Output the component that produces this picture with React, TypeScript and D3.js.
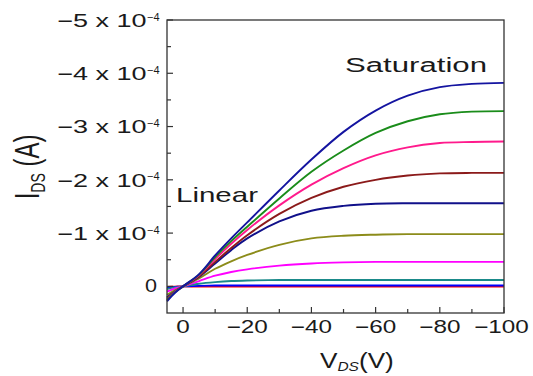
import React from 'react';
import * as d3 from 'd3';

// Drain–source voltage samples (V)
const VDS = [5, 2.5, 0, -5, -10, -15, -20, -30, -40, -50, -60, -70, -80, -90, -100];

// Drain current in units of 1e-4 A, one array per gate voltage curve
const I_navyTop = [0.28, 0.12, 0, -0.23, -0.58, -0.9, -1.2, -1.8, -2.38, -2.9, -3.3, -3.58, -3.74, -3.8, -3.82];
const I_green = [0.26, 0.11, 0, -0.22, -0.55, -0.85, -1.12, -1.65, -2.15, -2.55, -2.88, -3.1, -3.23, -3.28, -3.29];
const I_pink = [0.25, 0.1, 0, -0.21, -0.51, -0.8, -1.06, -1.52, -1.91, -2.22, -2.46, -2.61, -2.69, -2.71, -2.72];
const I_brown = [0.23, 0.1, 0, -0.19, -0.46, -0.72, -0.96, -1.36, -1.66, -1.87, -2.0, -2.08, -2.12, -2.13, -2.13];
const I_navy2 = [0.21, 0.09, 0, -0.18, -0.43, -0.68, -0.9, -1.22, -1.42, -1.51, -1.55, -1.56, -1.56, -1.56, -1.56];
const I_olive = [0.16, 0.07, 0, -0.15, -0.33, -0.47, -0.59, -0.78, -0.9, -0.95, -0.97, -0.98, -0.98, -0.98, -0.98];
const I_magenta = [0.1, 0.04, 0, -0.1, -0.2, -0.27, -0.32, -0.39, -0.43, -0.45, -0.46, -0.46, -0.46, -0.46, -0.46];
const I_teal = [0.05, 0.02, 0, -0.05, -0.08, -0.1, -0.11, -0.12, -0.12, -0.12, -0.12, -0.12, -0.12, -0.12, -0.12];
const I_blue = [0.02, 0.01, 0, -0.01, -0.015, -0.015, -0.015, -0.015, -0.015, -0.015, -0.015, -0.015, -0.015, -0.015, -0.015];
const I_red = [0.01, 0.005, 0, 0.005, 0.005, 0.005, 0.005, 0.005, 0.005, 0.005, 0.005, 0.005, 0.005, 0.005, 0.005];

const SERIES_VALUES = [I_red, I_blue, I_teal, I_magenta, I_olive, I_navy2, I_brown, I_pink, I_green, I_navyTop];
const SERIES_COLORS = ['#ff0000', '#0000ff', '#1a8a8a', '#ff00ff', '#8c8c1a', '#10108a', '#8b1a1a', '#ff1a8c', '#1a8c1a', '#1414a0'];

const X_MAJOR = [0, -20, -40, -60, -80, -100];
const X_MINOR = [-10, -30, -50, -70, -90];
const Y_MAJOR = [-5, -4, -3, -2, -1, 0];
const Y_MINOR = [-4.5, -3.5, -2.5, -1.5, -0.5];

export default function App() {
  const W = 533, H = 376;
  const left = 167, right = 504, top = 20, bottom = 313;
  const x = d3.scaleLinear().domain([5, -100]).range([left, right]);
  const y = d3.scaleLinear().domain([0.5, -5]).range([bottom, top]);
  const line = d3.line<[number, number]>()
    .x(d => x(d[0]))
    .y(d => y(d[1]))
    .curve(d3.curveCatmullRom.alpha(0.5));
  const axisColor = '#333';
  const textColor = '#1a1a1a';
  const font = '"Liberation Sans", Arial, sans-serif';

  return (
    <svg width={W} height={H} style={{ position: 'absolute', left: 0, top: 0, background: '#fff' }} fontFamily={font}>
      <rect x={0} y={0} width={W} height={H} fill="#fff" />
      {SERIES_VALUES.map((vals, i) => (
        <path key={i} d={line(VDS.map((v, j) => [v, vals[j]]) as [number, number][]) || ''}
          fill="none" stroke={SERIES_COLORS[i]} strokeWidth={1.9} />
      ))}
      <rect x={left} y={top} width={right - left} height={bottom - top} fill="none" stroke={axisColor} strokeWidth={1.3} />
      {X_MAJOR.map(v => (
        <line key={'xm' + v} x1={x(v)} x2={x(v)} y1={bottom} y2={bottom - 6} stroke={axisColor} strokeWidth={1.2} />
      ))}
      {X_MINOR.map(v => (
        <line key={'xn' + v} x1={x(v)} x2={x(v)} y1={bottom} y2={bottom - 4} stroke={axisColor} strokeWidth={1.2} />
      ))}
      {Y_MAJOR.map(v => (
        <line key={'ym' + v} x1={left} x2={left + 6} y1={y(v)} y2={y(v)} stroke={axisColor} strokeWidth={1.2} />
      ))}
      {Y_MINOR.map(v => (
        <line key={'yn' + v} x1={left} x2={left + 4} y1={y(v)} y2={y(v)} stroke={axisColor} strokeWidth={1.2} />
      ))}
      {X_MAJOR.map(v => (
        <g key={'xl' + v} transform={`translate(${v === -100 ? x(v) - 2.5 : x(v)},333.3) scale(1.35,1)`}>
          <text textAnchor="middle" fontSize={18} fill={textColor}>{v === 0 ? '0' : '\u2212' + Math.abs(v)}</text>
        </g>
      ))}
      {Y_MAJOR.map(v => v === 0 ? (
        <g key={'yl' + v} transform={`translate(157,${y(v) + 5.5}) scale(1.2,1)`}>
          <text textAnchor="end" fontSize={18} fill={textColor}>0</text>
        </g>
      ) : (
        <g key={'yl' + v}>
          <g transform={`translate(146.5,${y(v) + 6.7}) scale(1.5,1)`}>
            <text textAnchor="end" fontSize={18} fill={textColor}>{'\u2212' + Math.abs(v) + ' x 10'}</text>
          </g>
          <text x={147} y={y(v) + 0.5} fontSize={11} fill={textColor}>{'\u22124'}</text>
        </g>
      ))}
      <g transform="translate(26,167) scale(1.5,1) rotate(-90)">
        <text textAnchor="middle" fontSize={24} fill={textColor} dy={8.6}>
          <tspan>I</tspan>
          <tspan fontSize={14} dy={4}>DS</tspan>
          <tspan dy={-4}>{' (A)'}</tspan>
        </text>
      </g>
      <g transform="translate(320,367.5) scale(1.19,1)">
        <text fontSize={22} fill={textColor}>
          <tspan>V</tspan>
          <tspan fontSize={13} fontStyle="italic" dy={3.5}>DS</tspan>
          <tspan dy={-3.5}>(V)</tspan>
        </text>
      </g>
      <text x={345} y={71.5} fontSize={20} fill={textColor} textLength={142} lengthAdjust="spacingAndGlyphs">Saturation</text>
      <text x={176} y={201.5} fontSize={21} fill={textColor} textLength={82} lengthAdjust="spacingAndGlyphs">Linear</text>
    </svg>
  );
}
